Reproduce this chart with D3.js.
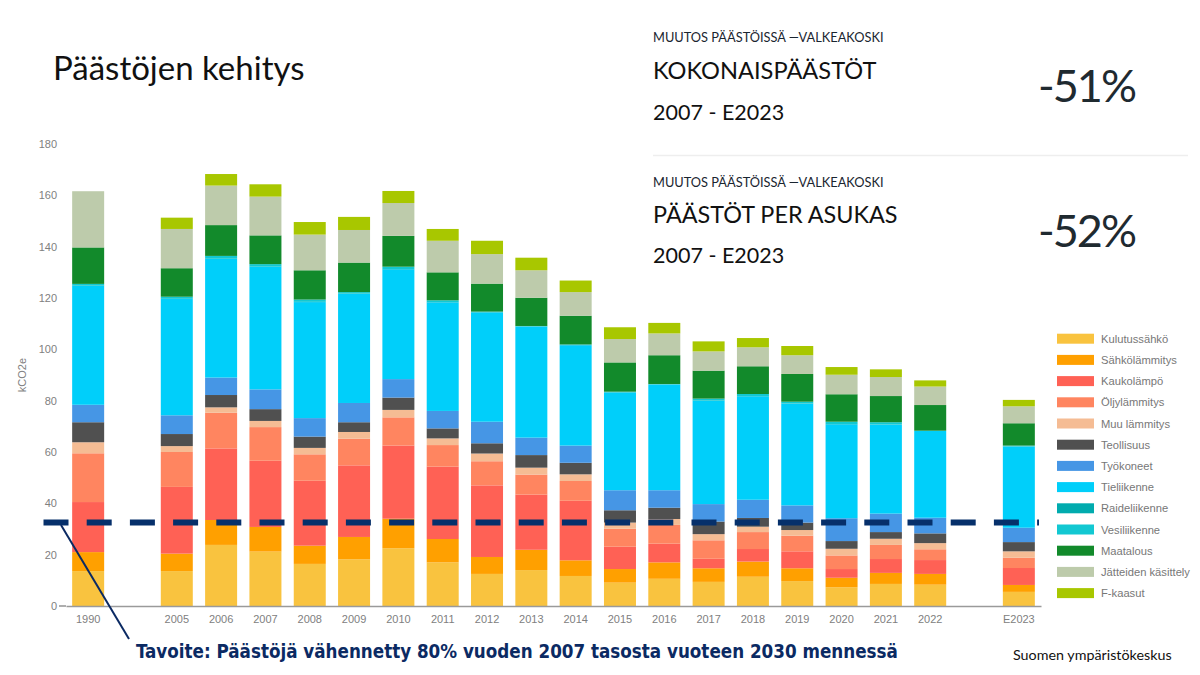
<!DOCTYPE html>
<html>
<head>
<meta charset="utf-8">
<script src="https://cdn.jsdelivr.net/npm/d3@7"></script>
<style>
  html, body { margin: 0; padding: 0; background: #fff; }
  svg { display: block; }
</style>
</head>
<body>
<svg id="chart" width="1200" height="675"></svg>
<script>
// slots with "" keep the gaps on the time axis
var categories = ["1990", "", "2005", "2006", "2007", "2008", "2009", "2010", "2011", "2012", "2013", "2014", "2015", "2016", "2017", "2018", "2019", "2020", "2021", "2022", " ", "E2023"];
var years = categories.filter(function (c) { return c.trim() !== ""; });
var yTicks = [0, 20, 40, 60, 80, 100, 120, 140, 160, 180];

var seriesNames = ["Kulutussähkö", "Sähkölämmitys", "Kaukolämpö", "Öljylämmitys", "Muu lämmitys", "Teollisuus", "Työkoneet", "Tieliikenne", "Raideliikenne", "Vesiliikenne", "Maatalous", "Jätteiden käsittely", "F-kaasut"];
var seriesColors = ["#f9c33f", "#ffa000", "#ff6155", "#ff8560", "#f5bc94", "#505050", "#4696e5", "#00cffa", "#00abae", "#12c8d2", "#128a2b", "#bdcbab", "#a8c700"];

var kulutussahko = [13.6, 13.6, 23.8, 21.2, 16.4, 18.2, 22.5, 17, 12.5, 14, 11.7, 9.1, 10.6, 9.4, 11.4, 9.7, 7.3, 8.6, 8.3, 5.5];
var sahkolammitys = [7.4, 6.8, 9.7, 9.6, 7.1, 8.7, 11.5, 9.1, 6.6, 7.9, 6.1, 5.3, 6.4, 5.3, 5.9, 5, 3.7, 4.3, 4.2, 2.7];
var kaukolampo = [19.5, 26, 27.9, 25.8, 25.3, 27.9, 28.5, 28.2, 27.9, 21.5, 23.2, 8.7, 7.3, 3.7, 4.9, 6.6, 3.4, 5.4, 5.4, 6.6];
var oljylammitys = [19, 13.6, 13.9, 13.1, 10.3, 10.4, 11, 8.4, 9.4, 7.8, 7.7, 7, 7.3, 7.2, 6.6, 6.1, 5.3, 5.5, 4.2, 4];
var muulammitys = [4.3, 2.3, 2.1, 2.4, 2.5, 2.6, 2.9, 2.6, 3, 2.7, 2.6, 2.4, 2.3, 2.4, 2.1, 2.2, 2.6, 2.4, 2.4, 2.5];
var teollisuus = [7.8, 4.7, 4.8, 4.6, 4.4, 3.8, 4.8, 3.9, 4, 4.9, 4.5, 4.8, 4.4, 4.9, 3.4, 2.9, 3, 2.6, 3.8, 3.6];
var tyokoneet = [6.8, 7.3, 6.8, 7.7, 7.2, 7.5, 7.2, 6.8, 8.4, 6.8, 6.7, 7.8, 6.8, 6.8, 7.1, 6.7, 8.9, 7.2, 6.1, 5.6];
var tieliikenne = [46.3, 45.3, 46.2, 47.7, 45.2, 42.5, 42.8, 42.3, 42.6, 43.2, 39.1, 38.1, 41.1, 40.2, 40.3, 39.6, 36.6, 34.6, 33.8, 31.6];
var raideliikenne = [0.1, 0.1, 0.1, 0.1, 0.1, 0.1, 0.1, 0.1, 0.1, 0.1, 0.1, 0.1, 0.1, 0.1, 0.1, 0.1, 0.1, 0.1, 0, 0.1];
var vesiliikenne = [0.7, 0.8, 1.1, 1, 0.9, 0.6, 0.9, 0.7, 0.2, 0.2, 0.2, 0.2, 0.2, 0.8, 0.8, 0.7, 0.9, 0.9, 0.1, 0.3];
var maatalous = [14.2, 11.1, 12, 11.2, 11.4, 11.5, 12, 10.9, 10.9, 11, 11.2, 11.4, 11.2, 10.9, 10.8, 10.8, 10.7, 10.2, 10, 8.7];
var jatteet = [21.9, 15.3, 15.4, 15.1, 13.9, 12.7, 12.8, 12.3, 11.5, 10.7, 9.2, 9.1, 8.5, 7.5, 7.4, 7.3, 7.6, 7.4, 7.2, 6.6];
var fkaasut = [0, 4.4, 4.5, 4.8, 4.9, 5.1, 4.7, 4.6, 5.2, 4.9, 4.5, 4.6, 4.1, 3.9, 3.6, 3.6, 3, 3, 2.4, 2.5];

var seriesValues = [kulutussahko, sahkolammitys, kaukolampo, oljylammitys, muulammitys, teollisuus, tyokoneet, tieliikenne, raideliikenne, vesiliikenne, maatalous, jatteet, fkaasut];

var targetValue = 32.5;

var svg = d3.select("#chart");
var AXIS = "'Liberation Sans', Arial, sans-serif";
var BODY = "Lato, sans-serif";

var x = d3.scaleBand().domain(categories).range([66, 1041]).paddingInner(0.278).paddingOuter(0.139);
var y = d3.scaleLinear().domain([0, 180]).range([606, 144]);

// table for d3.stack, one row per year
var rows = years.map(function (yr, i) {
  var row = { year: yr };
  seriesNames.forEach(function (name, s) { row[name] = seriesValues[s][i]; });
  return row;
});
var stacked = d3.stack().keys(seriesNames)(rows);

svg.selectAll("g.layer")
  .data(stacked)
  .enter().append("g")
  .attr("class", "layer")
  .attr("fill", function (d, i) { return seriesColors[i]; })
  .selectAll("rect")
  .data(function (d) { return d; })
  .enter().append("rect")
  .attr("x", function (d) { return x(d.data.year); })
  .attr("width", x.bandwidth())
  .attr("y", function (d) { return y(d[1]); })
  .attr("height", function (d) { return y(d[0]) - y(d[1]); });

// x axis
var xAxis = svg.append("g")
  .attr("transform", "translate(0,606)")
  .call(d3.axisBottom(x).tickSize(0).tickPadding(9));
xAxis.select(".domain").attr("stroke", "#9a9a9a").attr("stroke-width", 1.6);
xAxis.selectAll("text").attr("font-family", AXIS).attr("font-size", 11).attr("fill", "#808080");

// y axis
var yAxis = svg.append("g")
  .attr("transform", "translate(66,0)")
  .call(d3.axisLeft(y).tickValues(yTicks).tickSize(0).tickPadding(9));
yAxis.select(".domain").remove();
yAxis.selectAll("text").attr("font-family", AXIS).attr("font-size", 11).attr("fill", "#808080");
svg.append("line").attr("x1", 59).attr("x2", 66).attr("y1", y(0)).attr("y2", y(0)).attr("stroke", "#9a9a9a").attr("stroke-width", 1.6);

svg.append("text")
  .attr("transform", "translate(26,375) rotate(-90)")
  .attr("text-anchor", "middle")
  .attr("font-family", AXIS).attr("font-size", 11).attr("fill", "#808080")
  .text("kCO2e");

// legend
var legend = svg.selectAll("g.legend")
  .data(seriesNames)
  .enter().append("g")
  .attr("class", "legend")
  .attr("transform", function (d, i) { return "translate(1057," + (338.7 + i * 21.2) + ")"; });
legend.append("rect")
  .attr("y", -5).attr("width", 37).attr("height", 10)
  .attr("fill", function (d, i) { return seriesColors[i]; });
legend.append("text")
  .attr("x", 44).attr("y", 4)
  .attr("font-family", AXIS).attr("font-size", 11.2).attr("fill", "#777")
  .text(function (d) { return d; });

// target line and pointer
svg.append("line")
  .attr("x1", 43.5).attr("x2", 1039).attr("y1", y(targetValue)).attr("y2", y(targetValue))
  .attr("stroke", "#06306b").attr("stroke-width", 6).attr("stroke-dasharray", "25 18.2");
svg.append("line")
  .attr("x1", 61).attr("y1", 525).attr("x2", 129).attr("y2", 639)
  .attr("stroke", "#0b2a63").attr("stroke-width", 2);

// texts
function label(txt, px, py, size, opts) {
  opts = opts || {};
  return svg.append("text")
    .attr("x", px).attr("y", py)
    .attr("font-family", opts.family || BODY)
    .attr("font-size", size)
    .attr("font-weight", opts.weight || 400)
    .attr("letter-spacing", opts.spacing || 0)
    .attr("fill", opts.fill || "#111")
    .text(txt);
}

label("Päästöjen kehitys", 53, 80, 33);

label("MUUTOS PÄÄSTÖISSÄ —VALKEAKOSKI", 653, 42, 12.8, { fill: "#1a2530" });
label("KOKONAISPÄÄSTÖT", 653, 79, 23.6, { fill: "#111" });
label("2007 - E2023", 653, 120, 21.5, { fill: "#111" });
label("-51%", 1038, 102, 45, { fill: "#1f2a30", spacing: -2 });

svg.append("line").attr("x1", 653).attr("x2", 1188).attr("y1", 155.5).attr("y2", 155.5).attr("stroke", "#eeeeee").attr("stroke-width", 1.5);

label("MUUTOS PÄÄSTÖISSÄ —VALKEAKOSKI", 653, 187, 12.8, { fill: "#1a2530" });
label("PÄÄSTÖT PER ASUKAS", 653, 223, 23.4, { fill: "#111" });
label("2007 - E2023", 653, 263, 21.5, { fill: "#111" });
label("-52%", 1038, 247, 45, { fill: "#1f2a30", spacing: -2 });

label("Tavoite: Päästöjä vähennetty 80% vuoden 2007 tasosta vuoteen 2030 mennessä", 136, 658, 18.65, { family: "'DejaVu Sans Condensed', 'DejaVu Sans', sans-serif", weight: 700, fill: "#0b2a63" });
label("Suomen ympäristökeskus", 1013, 660, 14.3, { fill: "#111" });
</script>
</body>
</html>
